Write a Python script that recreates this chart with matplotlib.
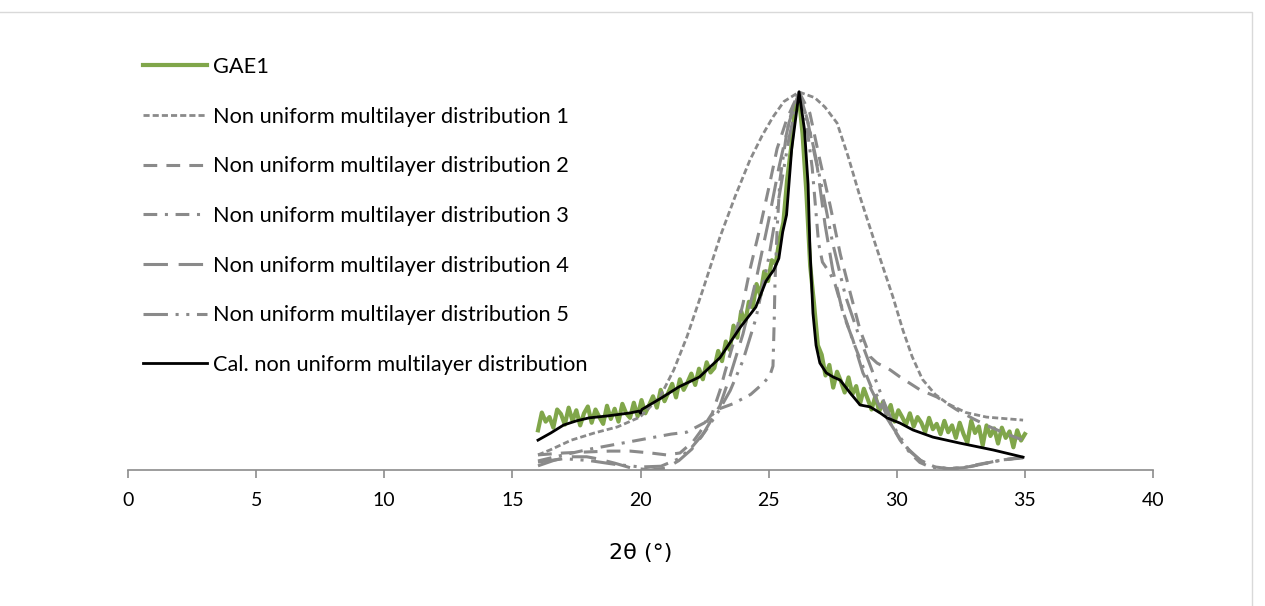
import numpy as np
import matplotlib
matplotlib.use("Agg")
import matplotlib.pyplot as plt
from matplotlib.patches import Rectangle

plt.rcParams['font.family'] = ['Lato', 'DejaVu Sans']

# ---------------- data (2theta in degrees, normalized intensity) ----------------
gae1_y = [0.105, 0.152, 0.128, 0.140, 0.112, 0.160, 0.148, 0.120, 0.165, 0.130,
          0.158, 0.118, 0.150, 0.168, 0.125, 0.160, 0.140, 0.122, 0.170, 0.135,
          0.162, 0.128, 0.175, 0.150, 0.138, 0.178, 0.142, 0.185, 0.150, 0.172,
          0.195, 0.165, 0.212, 0.182, 0.205, 0.228, 0.192, 0.240, 0.212, 0.232,
          0.255, 0.225, 0.268, 0.240, 0.285, 0.258, 0.270, 0.315, 0.288, 0.340,
          0.318, 0.382, 0.350, 0.420, 0.388, 0.445, 0.430, 0.492, 0.462, 0.525,
          0.500, 0.555, 0.545,
          0.610, 0.655, 0.770, 0.850, 0.955, 0.990, 0.890, 0.735, 0.540, 0.440, 0.330,
          0.305, 0.250, 0.278, 0.218, 0.260, 0.235, 0.205, 0.245, 0.200, 0.222,
          0.175, 0.215, 0.188, 0.160, 0.195, 0.155, 0.180, 0.148, 0.172, 0.128,
          0.158, 0.140, 0.120, 0.150, 0.115, 0.140, 0.125, 0.100, 0.138, 0.108,
          0.122, 0.095, 0.130, 0.100, 0.118, 0.085, 0.125, 0.095, 0.072, 0.130,
          0.098, 0.115, 0.065, 0.118, 0.090, 0.110, 0.070, 0.112, 0.085, 0.102,
          0.060, 0.105, 0.078, 0.095]
gae1_x = np.linspace(16.0, 35.0, len(gae1_y))

d1_x = [16.0, 16.47, 17.3, 18.2, 19.1, 19.98, 20.76, 21.3, 21.81, 22.45, 23.10, 23.7,
        24.27, 24.75, 25.17, 25.6, 26.19, 26.8, 27.2, 27.67, 28.1, 28.57, 29.2, 29.85,
        30.24, 30.6, 31.0, 31.5, 32.0, 32.7, 33.5, 34.93]
d1_y = [0.040, 0.053, 0.079, 0.098, 0.114, 0.140, 0.193, 0.265, 0.352, 0.480, 0.616, 0.725,
        0.820, 0.885, 0.934, 0.975, 1.000, 0.985, 0.960, 0.918, 0.830, 0.722, 0.590, 0.458,
        0.370, 0.300, 0.240, 0.200, 0.175, 0.152, 0.140, 0.132]

d2_x = [16.0, 17.0, 18.0, 18.8, 19.6, 20.4, 21.0, 21.54, 22.05, 22.32, 22.8, 23.1,
        23.3, 23.6, 24.0, 24.27, 24.66, 25.05, 25.33, 25.72, 26.19, 26.61, 27.0, 27.4,
        27.8, 28.18, 28.57, 28.96, 29.23, 29.74, 30.13, 30.91, 31.57, 32.35, 33.0,
        33.64, 34.3, 34.93]
d2_y = [0.040, 0.045, 0.048, 0.050, 0.050, 0.045, 0.040, 0.045, 0.075, 0.100, 0.150, 0.210,
        0.260, 0.330, 0.440, 0.530, 0.640, 0.760, 0.850, 0.930, 1.000, 0.944, 0.820, 0.700,
        0.570, 0.470, 0.370, 0.300, 0.283, 0.265, 0.246, 0.212, 0.193, 0.159, 0.135,
        0.114, 0.095, 0.079]

d3_x = [16.0, 17.0, 18.0, 18.8, 19.6, 20.4, 21.2, 21.8, 22.5, 23.0, 23.6, 24.3,
        24.8, 25.05, 25.17, 25.22, 25.25, 25.33, 25.44, 25.72, 26.0, 26.19, 26.45, 26.7,
        26.85, 26.95, 27.1, 27.4, 27.6, 27.9, 28.3, 28.7, 29.0, 29.35, 29.7, 30.13,
        30.52, 30.9, 31.3, 31.96, 32.59, 33.2, 34.0, 34.93]
d3_y = [0.024, 0.040, 0.055, 0.065, 0.075, 0.085, 0.095, 0.100, 0.125, 0.160, 0.175, 0.200,
        0.230, 0.250, 0.275, 0.400, 0.500, 0.635, 0.767, 0.899, 0.975, 1.000, 0.930, 0.800,
        0.680, 0.600, 0.550, 0.520, 0.490, 0.420, 0.340, 0.270, 0.220, 0.185, 0.130, 0.079,
        0.045, 0.020, 0.008, 0.003, 0.006, 0.015, 0.025, 0.034]

d4_x = [16.0, 16.6, 17.2, 17.9, 18.3, 19.0, 19.6, 20.4, 21.0, 21.5, 22.0, 22.4,
        22.7, 23.1, 23.5, 24.0, 24.5, 25.0, 25.4, 25.8, 26.19, 26.5, 26.9, 27.2,
        27.5, 27.9, 28.29, 28.68, 29.07, 29.4, 29.74, 30.3, 30.91, 31.5, 32.1, 32.8,
        33.5, 34.0, 34.93]
d4_y = [0.011, 0.025, 0.035, 0.035, 0.030, 0.018, 0.006, 0.000, 0.005, 0.025, 0.055, 0.090,
        0.125, 0.170, 0.250, 0.360, 0.500, 0.660, 0.800, 0.920, 1.000, 0.930, 0.800, 0.650,
        0.530, 0.415, 0.344, 0.257, 0.204, 0.160, 0.124, 0.065, 0.026, 0.008, 0.003, 0.008,
        0.018, 0.026, 0.032]

d5_x = [16.0, 17.0, 18.0, 19.0, 20.0, 20.8, 21.5, 22.0, 22.5, 23.0, 23.5, 24.0,
        24.5, 25.0, 25.4, 25.8, 26.19, 26.5, 26.8, 27.1, 27.5, 28.0, 28.5, 29.0,
        29.5, 30.0, 30.5, 31.0, 31.5, 32.0, 32.6, 33.3, 34.0, 34.93]
d5_y = [0.021, 0.030, 0.025, 0.015, 0.008, 0.010, 0.030, 0.060, 0.100, 0.150, 0.210, 0.290,
        0.400, 0.560, 0.720, 0.880, 1.000, 0.930, 0.840, 0.740, 0.600, 0.460, 0.360, 0.270,
        0.180, 0.100, 0.050, 0.022, 0.008, 0.004, 0.006, 0.015, 0.025, 0.034]

cal_x = [16.0, 16.5, 17.0, 17.5, 18.0, 18.7, 19.6, 19.95, 20.0, 20.05, 20.8, 21.5,
         22.3, 23.1, 23.9, 24.5, 24.9, 25.05, 25.2, 25.4, 25.55, 25.7, 25.9, 26.19,
         26.4, 26.54, 26.61, 26.73, 26.85, 27.0, 27.25, 27.52, 27.79, 28.18, 28.57,
         28.96, 29.35, 29.62, 30.13, 30.63, 31.41, 32.47, 33.76, 34.93]
cal_y = [0.079, 0.098, 0.119, 0.130, 0.138, 0.143, 0.151, 0.156, 0.150, 0.160, 0.190, 0.220,
         0.246, 0.297, 0.378, 0.431, 0.500, 0.515, 0.529, 0.560, 0.630, 0.675, 0.849, 1.000,
         0.900, 0.756, 0.590, 0.415, 0.330, 0.283, 0.257, 0.246, 0.238, 0.204, 0.172,
         0.167, 0.151, 0.138, 0.124, 0.106, 0.087, 0.071, 0.053, 0.034]

labels = ["GAE1",
          "Non uniform multilayer distribution 1",
          "Non uniform multilayer distribution 2",
          "Non uniform multilayer distribution 3",
          "Non uniform multilayer distribution 4",
          "Non uniform multilayer distribution 5",
          "Cal. non uniform multilayer distribution"]
xticks = [0, 5, 10, 15, 20, 25, 30, 35, 40]
xlabel = "2θ (°)"

# ---------------- figure ----------------
W, H = 1265, 606
fig = plt.figure(figsize=(W / 100, H / 100), dpi=100)
ax = fig.add_axes([128 / W, (H - 470) / H, (1153 - 128) / W, (470 - 60) / H])

green = '#80a64a'
gray = '#8a8a8a'

ax.plot(gae1_x, gae1_y, color=green, lw=3.0, label=labels[0], zorder=2)
ax.plot(d1_x, d1_y, color=gray, lw=2.0, linestyle=(0, (2.2, 1.1)), label=labels[1], zorder=3)
ax.plot(d2_x, d2_y, color=gray, lw=2.2, linestyle=(0, (4.5, 3.0)), label=labels[2], zorder=3)
ax.plot(d3_x, d3_y, color=gray, lw=2.2, linestyle=(0, (4.5, 2.5, 1.0, 2.5)), label=labels[3], zorder=3)
ax.plot(d4_x, d4_y, color=gray, lw=2.2, linestyle=(0, (8.0, 3.5)), label=labels[4], zorder=3)
ax.plot(d5_x, d5_y, color=gray, lw=2.2, linestyle=(0, (8.0, 2.5, 1.0, 2.5, 1.0, 2.5)), label=labels[5], zorder=3)
ax.plot(cal_x, cal_y, color='black', lw=2.0, label=labels[6], zorder=4)

ax.set_xlim(0, 40)
ax.set_ylim(0, 1.0847)
ax.set_xticks(xticks)
ax.set_xticklabels([str(t) for t in xticks])
ax.set_yticks([])
for s in ['top', 'right', 'left']:
    ax.spines[s].set_visible(False)
ax.spines['bottom'].set_color('#8c8c8c')
ax.spines['bottom'].set_linewidth(1.2)
ax.tick_params(axis='x', direction='out', length=6, width=1.2, color='#8c8c8c',
               labelsize=14, pad=10, labelcolor='black')
ax.set_xlabel(xlabel, fontsize=16, labelpad=24, family=['DejaVu Sans'])
ax.patch.set_alpha(0)

leg = ax.legend(loc='upper left', bbox_to_anchor=(143 / W, 1 - 57 / H),
                bbox_transform=fig.transFigure, frameon=False, fontsize=15.7,
                handlelength=2.95, handletextpad=0.28, labelspacing=1.36,
                borderpad=0, borderaxespad=0)

# chart area border (top and right visible)
fig.patches.append(Rectangle((-0.01, -0.01), 1252 / W + 0.01, (H - 12) / H + 0.01,
                             transform=fig.transFigure, fill=False,
                             edgecolor='#d9d9d9', lw=1.0))

fig.savefig('out.png', dpi=100)
